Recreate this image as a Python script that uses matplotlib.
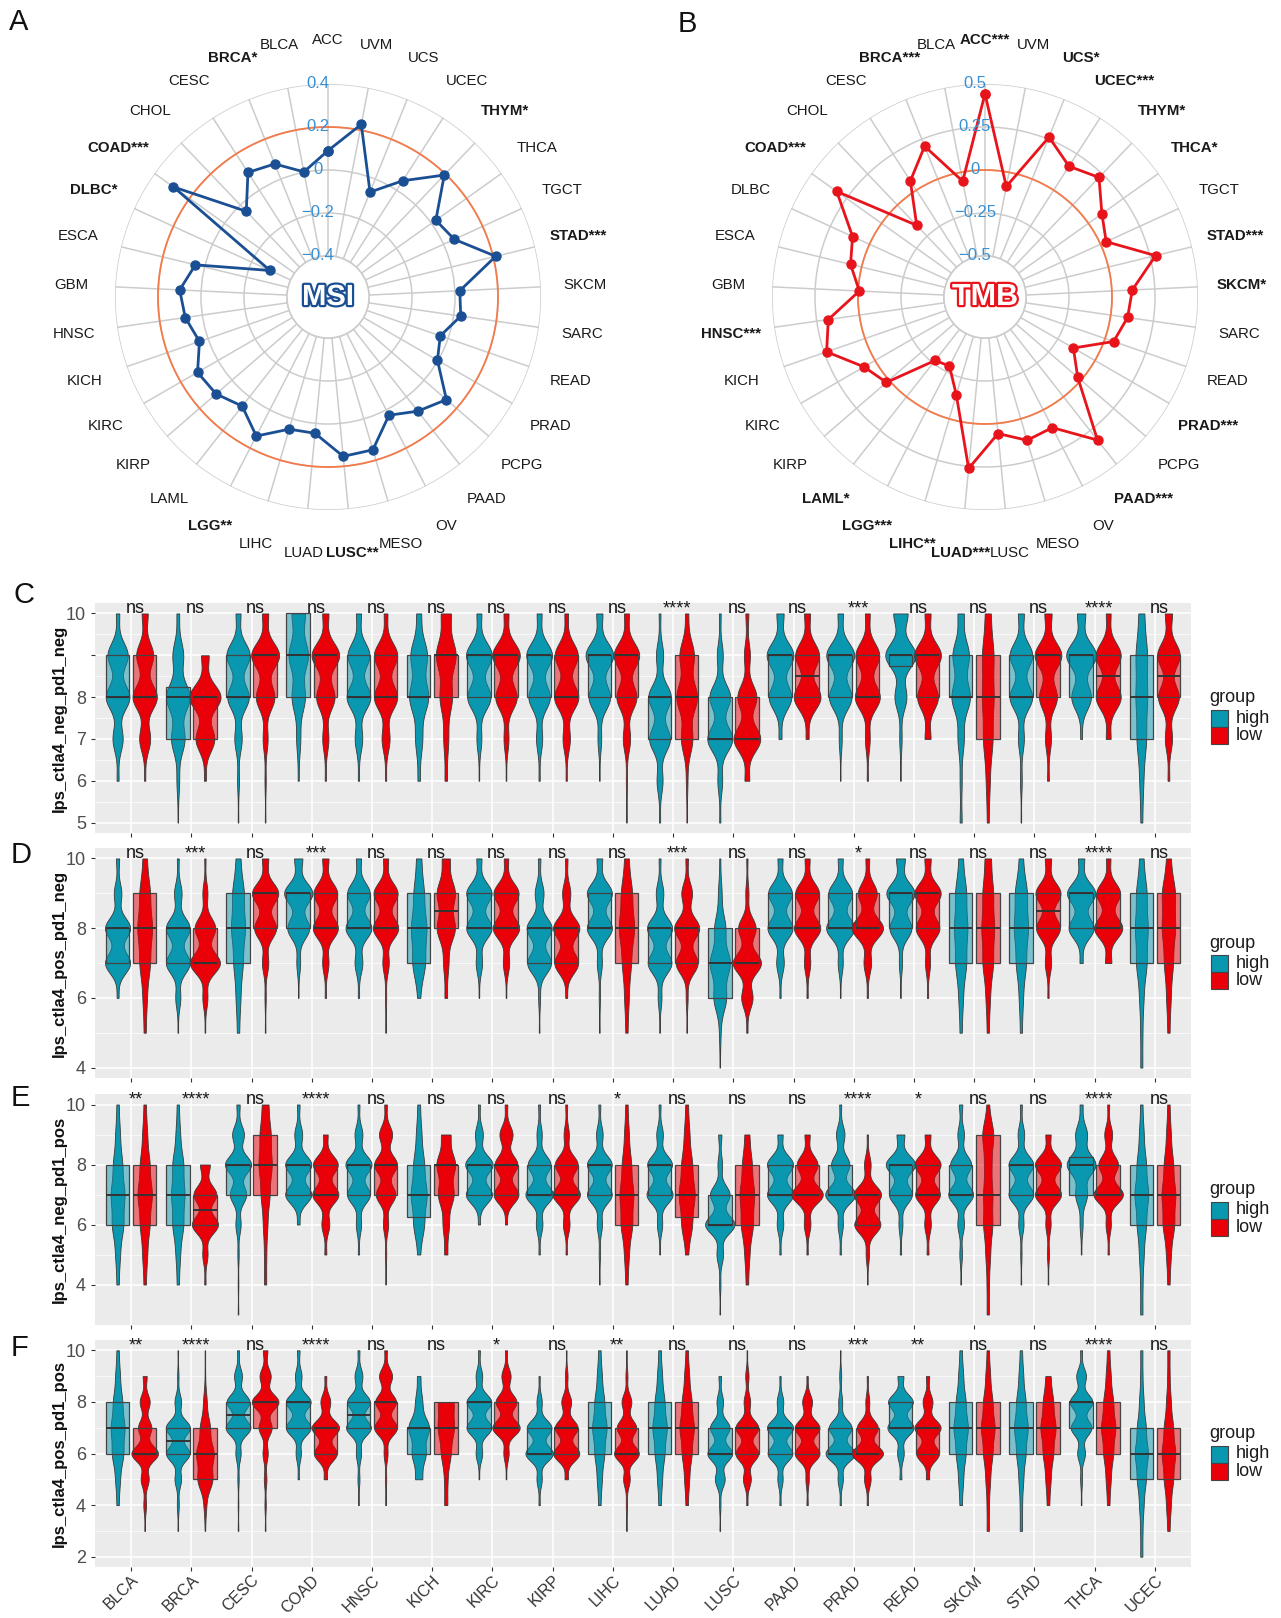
import numpy as np
import matplotlib
matplotlib.use("Agg")
import matplotlib.pyplot as plt
import matplotlib.patheffects as pe
import matplotlib.transforms as mtransforms
from matplotlib.colors import to_rgba
from matplotlib.patches import Rectangle

plt.rcParams['font.family'] = ['Liberation Sans', 'DejaVu Sans']

# ---------------- radar data (correlation with MSI / TMB) ----------------
cancers33 = ['ACC', 'BLCA', 'BRCA', 'CESC', 'CHOL', 'COAD', 'DLBC', 'ESCA', 'GBM', 'HNSC', 'KICH',
             'KIRC', 'KIRP', 'LAML', 'LGG', 'LIHC', 'LUAD', 'LUSC', 'MESO', 'OV', 'PAAD', 'PCPG',
             'PRAD', 'READ', 'SARC', 'SKCM', 'STAD', 'TGCT', 'THCA', 'THYM', 'UCEC', 'UCS', 'UVM']
msi_cor = [0.09, 0.002, 0.076, 0.098, -0.04, 0.292, -0.294, 0.044, 0.100, 0.080, 0.042,
           0.110, 0.098, 0.055, 0.137, 0.050, 0.046, 0.154, 0.150, 0.028, 0.085, 0.138,
           -0.003, -0.038, 0.033, 0.023, 0.212, 0.055, 0.025, 0.193, 0.052, -0.065, 0.227]
msi_sig = {'BRCA': '*', 'COAD': '***', 'DLBC': '*', 'THYM': '*', 'STAD': '***', 'LGG': '**', 'LUSC': '**'}
tmb_cor = [0.443, -0.053, 0.206, 0.064, -0.163, 0.320, 0.108, 0.066, -0.007, 0.182, 0.236,
           0.074, 0.020, -0.269, -0.287, -0.146, 0.263, 0.059, 0.130, 0.116, 0.320, -0.025,
           -0.145, 0.053, 0.099, 0.119, 0.282, 0.036, 0.096, 0.222, 0.165, 0.263, -0.084]
tmb_sig = {'ACC': '***', 'BRCA': '***', 'UCS': '*', 'UCEC': '***', 'THYM': '*', 'THCA': '*',
           'COAD': '***', 'STAD': '***', 'SKCM': '*', 'HNSC': '***', 'PRAD': '***', 'PAAD': '***',
           'LAML': '*', 'LGG': '***', 'LIHC': '**', 'LUAD': '***'}
msi_ticks = [-0.4, -0.2, 0, 0.2, 0.4]
msi_ticklabels = ['\u22120.4', '\u22120.2', '0', '0.2', '0.4']
tmb_ticks = [-0.5, -0.25, 0, 0.25, 0.5]
tmb_ticklabels = ['\u22120.5', '\u22120.25', '0', '0.25', '0.5']

# ---------------- IPS score counts, scores 2..10 ----------------
types18 = ['BLCA', 'BRCA', 'CESC', 'COAD', 'HNSC', 'KICH', 'KIRC', 'KIRP', 'LIHC',
           'LUAD', 'LUSC', 'PAAD', 'PRAD', 'READ', 'SKCM', 'STAD', 'THCA', 'UCEC']
scores = np.arange(2, 11)

c_high = [[0,0,0,0,3,15,35,30,5], [0,0,0,1,5,25,44,20,5], [0,0,0,1,3,12,35,38,8], [0,0,0,0,2,8,26,38,26],
          [0,0,0,0,2,12,38,35,8], [0,0,0,0,1,3,8,7,2], [0,0,0,0,1,8,38,42,8], [0,0,0,0,2,10,35,42,8],
          [0,0,0,0,1,6,35,45,10], [0,0,0,2,10,35,38,12,3], [0,0,0,2,8,42,35,10,3], [0,0,0,0,0,5,38,45,12],
          [0,0,0,0,1,5,38,47,9], [0,0,0,0,1,4,20,51,24], [0,0,0,1,1,3,9,8,3], [0,0,0,1,3,10,38,38,10],
          [0,0,0,0,0,3,33,50,14], [0,0,0,1,2,5,6,6,3]]
c_low = [[0,0,0,0,2,18,40,28,10], [0,0,0,0,3,30,50,12,0], [0,0,0,1,2,8,30,45,10], [0,0,0,0,2,10,30,45,10],
         [0,0,0,0,2,13,38,38,6], [0,0,0,0,1,2,5,8,4], [0,0,0,0,1,8,35,45,8], [0,0,0,0,2,12,40,38,6],
         [0,0,0,1,2,12,33,42,8], [0,0,0,1,3,22,40,28,6], [0,0,0,0,8,45,32,10,5], [0,0,0,0,0,5,45,40,10],
         [0,0,0,0,2,8,42,40,8], [0,0,0,0,0,10,35,45,10], [0,0,0,1,2,5,6,6,3], [0,0,0,0,3,10,30,45,12],
         [0,0,0,0,0,8,42,42,8], [0,0,0,0,3,12,35,38,12]]
d_high = [[0,0,0,0,3,40,40,12,5], [0,0,0,1,8,38,38,12,3], [0,0,0,1,2,4,6,5,2], [0,0,0,0,1,6,35,45,13],
          [0,0,0,0,2,12,40,35,8], [0,0,0,0,1,5,6,4,2], [0,0,0,0,1,10,40,40,8], [0,0,0,1,3,38,40,14,4],
          [0,0,0,1,2,8,40,40,9], [0,0,0,1,6,38,40,12,3], [0,0,1,3,25,40,22,7,2], [0,0,0,0,2,12,40,38,8],
          [0,0,0,0,1,8,45,38,8], [0,0,0,0,1,5,35,45,14], [0,0,0,1,2,5,6,5,2], [0,0,0,1,2,5,7,6,2],
          [0,0,0,0,0,5,40,45,10], [0,0,1,1,2,5,6,5,2]]
d_low = [[0,0,0,1,2,5,7,5,2], [0,0,0,1,8,48,33,8,2], [0,0,0,1,2,10,35,42,10], [0,0,0,0,2,10,40,38,10],
         [0,0,0,1,2,10,40,38,8], [0,0,0,0,1,2,7,7,3], [0,0,0,0,1,10,42,40,7], [0,0,0,0,3,38,42,13,4],
         [0,0,0,1,2,4,7,5,2], [0,0,0,1,3,35,40,17,4], [0,0,0,2,18,45,28,5,2], [0,0,0,0,2,10,42,38,8],
         [0,0,0,0,2,12,50,30,6], [0,0,0,0,2,8,38,42,10], [0,0,0,1,2,5,6,5,3], [0,0,0,0,2,10,38,40,10],
         [0,0,0,0,0,10,45,38,7], [0,0,0,1,2,4,6,6,2]]
e_high = [[0,0,1,2,5,6,4,2,1], [0,0,1,2,5,6,5,2,1], [0,1,1,2,8,25,40,18,5], [0,0,0,0,4,40,40,12,4],
          [0,0,0,2,8,35,40,12,3], [0,0,0,1,4,6,4,2,1], [0,0,0,0,3,40,42,12,3], [0,0,0,2,10,42,35,8,3],
          [0,0,1,2,8,38,38,10,3], [0,0,0,1,8,40,38,10,3], [0,1,2,10,45,30,7,5,0], [0,0,0,2,10,40,40,8,0],
          [0,0,0,2,8,46,28,13,3], [0,0,0,2,6,35,45,12,0], [0,0,1,4,10,38,32,10,5], [0,0,1,2,8,38,38,10,3],
          [0,0,0,1,5,20,49,20,5], [0,1,1,2,4,6,4,2,1]]
e_low = [[0,0,1,2,4,6,4,2,1], [0,0,2,8,40,35,15,0,0], [0,0,1,1,2,4,6,5,3], [0,0,0,3,12,40,38,7,0],
         [0,0,1,2,8,30,35,20,4], [0,0,0,1,2,5,6,3,0], [0,0,0,0,3,38,35,20,4], [0,0,0,2,10,42,35,8,3],
         [0,0,1,2,5,6,4,2,1], [0,0,0,1,4,6,4,2,1], [0,0,1,2,5,6,4,2,0], [0,0,0,2,10,48,32,8,0],
         [0,0,1,5,40,42,10,2,0], [0,0,0,3,10,38,40,9,0], [0,1,1,2,4,4,3,5,1], [0,0,1,3,8,40,40,8,0],
         [0,0,0,2,8,45,30,12,3], [0,0,1,2,5,6,4,2,1]]
f_high = [[0,0,1,2,5,6,4,2,1], [0,1,3,10,36,37,10,2,1], [0,1,1,2,8,38,35,12,3], [0,0,0,2,8,38,38,10,4],
          [0,0,1,3,8,38,35,12,3], [0,0,0,2,4,6,2,1,0], [0,0,0,1,10,38,38,10,3], [0,0,2,8,42,38,8,2,0],
          [0,0,1,2,4,6,4,2,1], [0,0,1,2,4,6,4,2,1], [0,1,2,15,38,30,10,4,0], [0,0,2,8,38,40,10,2,0],
          [0,0,2,8,45,35,6,3,1], [0,0,0,3,10,40,38,9,0], [0,0,1,2,4,6,4,2,1], [0,1,1,2,4,6,4,2,1],
          [0,0,1,3,12,32,35,15,3], [1,1,2,4,6,4,2,1,1]]
f_low = [[0,1,4,12,40,20,15,6,0], [0,1,5,30,35,20,7,1,1], [0,1,2,4,8,20,41,17,7], [0,0,0,5,35,42,15,3,0],
         [0,0,1,2,6,35,32,20,4], [0,0,1,1,3,5,5,0,0], [0,0,0,1,8,42,32,14,3], [0,0,0,5,40,35,15,4,1],
         [0,1,2,10,38,30,15,3,1], [0,0,1,2,4,6,4,2,1], [0,0,2,12,35,35,10,5,1], [0,0,2,5,38,38,15,2,0],
         [0,0,2,10,48,32,6,2,0], [0,0,0,5,35,40,15,5,0], [0,1,1,2,4,6,4,2,1], [0,0,1,2,4,6,4,2,0],
         [0,0,1,2,4,6,4,2,1], [0,1,2,4,6,4,2,1,1]]

sig_c = ['ns', 'ns', 'ns', 'ns', 'ns', 'ns', 'ns', 'ns', 'ns', '****', 'ns', 'ns', '***', 'ns', 'ns', 'ns', '****', 'ns']
sig_d = ['ns', '***', 'ns', '***', 'ns', 'ns', 'ns', 'ns', 'ns', '***', 'ns', 'ns', '*', 'ns', 'ns', 'ns', '****', 'ns']
sig_e = ['**', '****', 'ns', '****', 'ns', 'ns', 'ns', 'ns', '*', 'ns', 'ns', 'ns', '****', '*', 'ns', 'ns', '****', 'ns']
sig_f = ['**', '****', 'ns', '****', 'ns', 'ns', '*', 'ns', '**', 'ns', 'ns', 'ns', '***', '**', 'ns', 'ns', '****', 'ns']

teal = '#0a97b0'
red = '#ea0008'
grid_grey = '#cccccc'

W, H = 1281, 1618
fig = plt.figure(figsize=(W / 100, H / 100), dpi=100)
fig.patch.set_facecolor('white')


def px_box(left, top, right, bottom):
    return [left / W, 1 - bottom / H, (right - left) / W, (bottom - top) / H]


def radar(rect, values, sig, ticks, ticklabels, ref, color, name, name_size):
    ax = fig.add_axes(rect, projection='polar')
    n = len(cancers33)
    theta = np.arange(n) * 2 * np.pi / n
    ax.set_theta_zero_location('N')
    ax.set_theta_direction(1)
    lo, hi = ticks[0], ticks[-1]
    ax.set_ylim(lo, hi)
    r0 = (lo - 0.1925 * hi) / (1 - 0.1925)
    ax.set_rorigin(r0)
    ax.set_xticks(theta)
    ax.set_xticklabels([])
    ax.set_yticks(ticks)
    ax.set_yticklabels([])
    ax.tick_params(length=0)
    ax.grid(color=grid_grey, lw=1.1)
    for sp in ax.spines.values():
        sp.set_edgecolor(grid_grey)
        sp.set_linewidth(1.1)
        sp.set_visible(False)
    ax.patch.set_edgecolor('none')

    tt = np.linspace(0, 2 * np.pi, 400)
    ax.plot(tt, np.full_like(tt, lo), color=grid_grey, lw=1.1, zorder=1)
    ax.plot(tt, np.full_like(tt, ref), color='#f47a4a', lw=1.3, zorder=2)
    th = np.append(theta, theta[0])
    vals = np.append(values, values[0])
    ax.plot(th, vals, color=color, lw=2, marker='o', ms=6.5, zorder=3)

    lab_r = r0 + 1.207 * (hi - r0)
    for k, c in enumerate(cancers33):
        s = sig.get(c, '')
        ax.text(theta[k], lab_r, c + s, ha='center', va='center', fontsize=10.8,
                fontweight='bold' if s else 'normal', color='#1a1a1a')

    shift = ax.transData + mtransforms.ScaledTranslation(-0.10, 0, fig.dpi_scale_trans)
    for t, lab in zip(ticks, ticklabels):
        ax.text(0, t, lab, transform=shift, ha='center', va='center', fontsize=12,
                color='#3a8fd2', zorder=4)

    ax.text(0.5, 0.5, name, transform=ax.transAxes, ha='center', va='center',
            fontsize=name_size, fontweight='bold', color='white',
            path_effects=[pe.Stroke(linewidth=3.2, foreground=color), pe.Normal()])
    return ax


radar(px_box(115, 84, 541, 510), msi_cor, msi_sig, msi_ticks, msi_ticklabels, 0.2, '#1b4f93', 'MSI', 21)
radar(px_box(772, 84, 1198, 510), tmb_cor, tmb_sig, tmb_ticks, tmb_ticklabels, 0.0, '#e8141c', 'TMB', 22)


def bandwidth(x):
    # nrd0 rule of thumb, kept inside a sensible range for integer scores
    sd = x.std(ddof=1)
    q75, q25 = np.percentile(x, [75, 25])
    lo = min(sd, (q75 - q25) / 1.34)
    if lo == 0:
        lo = sd
    return float(np.clip(0.9 * lo * len(x) ** -0.2, 0.3, 0.45))


def violin_panel(top, bottom, high, low, sig, ylim, yticks, yticklabels, ylabel, show_x):
    ax = fig.add_axes(px_box(95, top, 1191, bottom))
    ax.set_facecolor('#ebebeb')
    xs = np.arange(len(types18))

    shapes = []
    for i in xs:
        for counts, dx, col in ((high[i], -0.225, teal), (low[i], 0.225, red)):
            counts = np.array(counts)
            sample = np.repeat(scores, counts)
            bw = bandwidth(sample)
            grid = np.linspace(sample.min(), sample.max(), 300)
            kern = np.exp(-0.5 * ((grid[None, :] - scores[:, None]) / bw) ** 2)
            dens = (counts[:, None] * kern).sum(0) / (len(sample) * bw * np.sqrt(2 * np.pi))
            shapes.append((i + dx, grid, dens, sample, col))
    top_d = max(s[2].max() for s in shapes)

    for x, grid, dens, sample, col in shapes:
        w = dens / top_d * 0.26
        ax.fill_betweenx(grid, x - w, x + w, facecolor=col, edgecolor='#3a3a3a', lw=0.6, zorder=2)
        q1, med, q3 = np.percentile(sample, [25, 50, 75])
        ax.add_patch(Rectangle((x - 0.195, q1), 0.39, q3 - q1, facecolor=to_rgba(col, 0.5),
                               edgecolor='#444444', lw=0.9, zorder=3))
        ax.plot([x - 0.195, x + 0.195], [med, med], color='#333333', lw=1.4, zorder=4,
                solid_capstyle='butt')

    for i, s in enumerate(sig):
        ax.text(i + 0.07, 10, s, ha='center', va='baseline', fontsize=13, color='#1a1a1a', zorder=5)

    ax.set_xlim(-0.6, len(types18) - 0.4)
    ax.set_ylim(*ylim)
    ax.set_xticks(xs)
    ax.set_yticks(yticks)
    ax.set_yticklabels(yticklabels)
    ax.set_yticks([(a + b) / 2 for a, b in zip(yticks[:-1], yticks[1:])], minor=True)
    ax.grid(which='major', color='white', lw=1.1, zorder=0)
    ax.grid(which='minor', axis='y', color='white', lw=0.5, zorder=0)
    ax.set_axisbelow(True)
    for s in ax.spines.values():
        s.set_visible(False)
    ax.tick_params(which='major', length=3, width=0.8, color='#333333', labelcolor='#4d4d4d', labelsize=13)
    ax.tick_params(axis='x', labelsize=11.5, pad=1, labelcolor='#333333')
    ax.tick_params(which='minor', length=0)
    if show_x:
        ax.set_xticklabels(types18, rotation=45, ha='right', rotation_mode='anchor')
    else:
        ax.set_xticklabels([])
    ax.set_ylabel(ylabel, fontsize=12, fontweight='bold', color='#111111')
    ax.yaxis.set_label_coords(-0.0255, 0.5)

    # legend at the right of the panel
    cy = (top + bottom) / 2
    fig.text(1209 / W, 1 - (cy - 20) / H, 'group', fontsize=13, va='center', ha='left', color='#1a1a1a')
    for j, (lab, col) in enumerate((('high', teal), ('low', red))):
        y0 = cy - 8 + j * 17
        fig.add_artist(Rectangle((1211 / W, 1 - (y0 + 17) / H), 17 / W, 17 / H, transform=fig.transFigure,
                                 facecolor=col, edgecolor='#444444', lw=0.8))
        fig.text(1236 / W, 1 - (y0 + 8.5) / H, lab, fontsize=13, va='center', ha='left', color='#1a1a1a')
    return ax


violin_panel(603, 833, c_high, c_low, sig_c, (4.75, 10.25), [5, 6, 7, 8, 9, 10],
             ['5', '6', '7', '8', '', '10'], 'Ips_ctla4_neg_pd1_neg', False)
violin_panel(848, 1078, d_high, d_low, sig_d, (3.7, 10.3), [4, 6, 8, 10],
             ['4', '6', '8', '10'], 'Ips_ctla4_pos_pd1_neg', False)
violin_panel(1094, 1325, e_high, e_low, sig_e, (2.65, 10.35), [4, 6, 8, 10],
             ['4', '6', '8', '10'], 'Ips_ctla4_neg_pd1_pos', False)
violin_panel(1340, 1567, f_high, f_low, sig_f, (1.6, 10.4), [2, 4, 6, 8, 10],
             ['2', '4', '6', '8', '10'], 'Ips_ctla4_pos_pd1_pos', True)

# panel letters
for letter, x, y in (('A', 9, 8), ('B', 678, 10), ('C', 13, 581), ('D', 11, 841),
                     ('E', 11, 1084), ('F', 11, 1334)):
    fig.text(x / W, 1 - y / H, letter, fontsize=21, va='top', ha='left', color='#111111')

fig.savefig('out.png', dpi=100)
